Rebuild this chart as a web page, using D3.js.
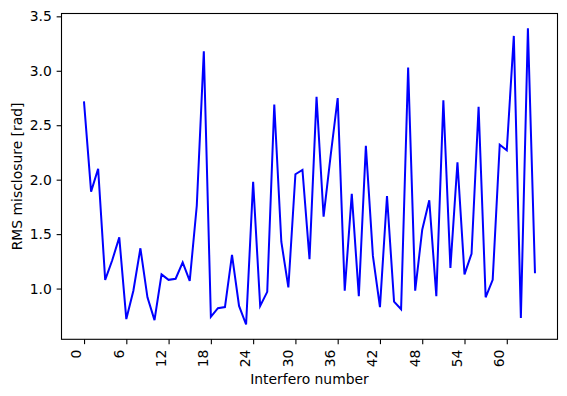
<!DOCTYPE html>
<html>
<head>
<meta charset="utf-8">
<script src="https://cdn.jsdelivr.net/npm/d3@7"></script>
<style>
html, body { margin: 0; padding: 0; background: #fff; }
svg { display: block; font-family: "DejaVu Sans", sans-serif; }
</style>
</head>
<body>
<svg id="chart" width="567" height="396"></svg>
<script>
const interferoNumbers = d3.range(0, 65);
const rmsValues = [
  2.71, 1.89, 2.10, 1.08, 1.26, 1.47, 0.72, 0.98, 1.37, 0.92,
  0.71, 1.13, 1.08, 1.09, 1.24, 1.07, 1.76, 3.18, 0.74, 0.82,
  0.83, 1.31, 0.84, 0.67, 1.98, 0.84, 0.97, 2.69, 1.43, 1.01,
  2.05, 2.09, 1.27, 2.76, 1.66, 2.22, 2.75, 0.98, 1.87, 0.93,
  2.31, 1.30, 0.83, 1.85, 0.88, 0.81, 3.03, 0.98, 1.54, 1.81,
  0.93, 2.73, 1.19, 2.16, 1.13, 1.32, 2.67, 0.92, 1.08, 2.32,
  2.27, 3.32, 0.73, 3.39, 1.15
];
const xTicks = [0, 6, 12, 18, 24, 30, 36, 42, 48, 54, 60];
const yTicks = [1.0, 1.5, 2.0, 2.5, 3.0, 3.5];
const xLabel = "Interfero number";
const yLabel = "RMS misclosure [rad]";

const svg = d3.select("#chart");
const plotLeft = 61.5, plotRight = 557.5, plotTop = 13.5, plotBottom = 339.3;
const fontPx = 13.9;

const xMin = d3.min(interferoNumbers), xMax = d3.max(interferoNumbers);
const xPad = (xMax - xMin) * 0.05;
const yMin = d3.min(rmsValues), yMax = d3.max(rmsValues);
const yPad = (yMax - yMin) * 0.05;

const x = d3.scaleLinear().domain([xMin - xPad, xMax + xPad]).range([plotLeft, plotRight]);
const y = d3.scaleLinear().domain([yMin - yPad, yMax + yPad]).range([plotBottom, plotTop]);

// data line
const line = d3.line().x((d, i) => x(interferoNumbers[i])).y(d => y(d));
svg.append("path")
  .datum(rmsValues)
  .attr("d", line)
  .attr("fill", "none")
  .attr("stroke", "#0000ff")
  .attr("stroke-width", 2)
  .attr("stroke-linejoin", "miter")
  .attr("stroke-linecap", "square");

// axes
const xAxis = d3.axisBottom(x).tickValues(xTicks).tickFormat(d3.format("d")).tickSize(4.86).tickPadding(4.86);
const gx = svg.append("g").attr("transform", `translate(0,${plotBottom})`).call(xAxis);
gx.select(".domain").remove();
gx.selectAll(".tick line").attr("stroke", "#000").attr("stroke-width", 1.1);
gx.selectAll(".tick text")
  .attr("font-size", fontPx)
  .attr("font-family", "DejaVu Sans")
  .attr("fill", "#000")
  .attr("transform", "rotate(-90)")
  .attr("text-anchor", "end")
  .attr("dy", 0)
  .attr("x", -10.3)
  .attr("y", -3.2);

const yAxis = d3.axisLeft(y).tickValues(yTicks).tickFormat(d3.format(".1f")).tickSize(4.86).tickPadding(4.86);
const gy = svg.append("g").attr("transform", `translate(${plotLeft},0)`).call(yAxis);
gy.select(".domain").remove();
gy.selectAll(".tick line").attr("stroke", "#000").attr("stroke-width", 1.1);
gy.selectAll(".tick text").attr("font-size", fontPx).attr("font-family", "DejaVu Sans").attr("fill", "#000");

// frame
svg.append("rect")
  .attr("x", plotLeft).attr("y", plotTop)
  .attr("width", plotRight - plotLeft).attr("height", plotBottom - plotTop)
  .attr("fill", "none").attr("stroke", "#000").attr("stroke-width", 1.1);

// labels
svg.append("text")
  .attr("x", (plotLeft + plotRight) / 2).attr("y", 384.3)
  .attr("text-anchor", "middle")
  .attr("font-size", fontPx).attr("fill", "#000")
  .text(xLabel);

svg.append("text")
  .attr("transform", `translate(22,${(plotTop + plotBottom) / 2}) rotate(-90)`)
  .attr("text-anchor", "middle")
  .attr("font-size", fontPx).attr("fill", "#000")
  .text(yLabel);
</script>
</body>
</html>
